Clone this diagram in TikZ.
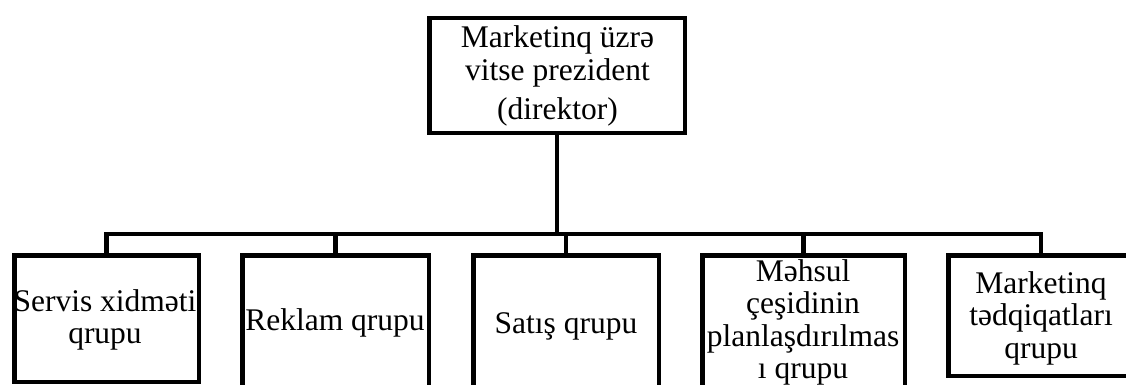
\documentclass[tikz,border=0pt]{standalone}
\usepackage{fontspec}
\setmainfont{Liberation Serif}
\begin{document}
\begin{tikzpicture}[x=1pt,y=-1pt,
  box/.style={draw=black, line width=4.5pt, fill=white, inner sep=0pt, anchor=center},
  link/.style={draw=black, line width=4.5pt},
  label/.style={inner sep=0pt, align=center, anchor=base,
    font=\fontsize{31.5}{32.5}\selectfont}]
\useasboundingbox (0,0) rectangle (1126,385);

% head of the department (base anchor sits on the last line)
\node[box, minimum width=255.5pt, minimum height=114.5pt] (top) at (557,75.5) {};
\node[label] (ttop) at (557.5,120) {Marketinq üzrə\\vitse prezident\\[7pt](direktor)};

% groups
\node[box, minimum width=184.5pt, minimum height=126.5pt] (b1) at (106.5,318.5) {};
\node[box, minimum width=186.5pt, minimum height=140pt] (b2) at (335.5,325.25) {};
\node[box, minimum width=185.5pt, minimum height=140pt] (b3) at (566,325.25) {};
\node[box, minimum width=202.5pt, minimum height=140pt] (b4) at (803.5,325.25) {};
\node[box, minimum width=185.5pt, minimum height=120.5pt] (b5) at (1041,315.5) {};

\node[label] (t1) at (105,343.5) {Servis xidməti\\qrupu};
\node[label] (t2) at (335,330) {Reklam qrupu};
\node[label] (t3) at (566,333) {Satış qrupu};
\node[label] (t4) at (803,378.5) {Məhsul\\çeşidinin\\planlaşdırılmas\\ı qrupu};
\node[label] (t5) at (1041,358) {Marketinq\\tədqiqatları\\qrupu};

% connectors
\coordinate (bus) at (557,234);
\draw[link] (top.south) -- (bus);
\draw[link] (b1.north) -- (b1.north |- bus) -| (b5.north);
\draw[link] (b2.north) -- (b2.north |- bus);
\draw[link] (b3.north) -- (b3.north |- bus);
\draw[link] (b4.north) -- (b4.north |- bus);
\end{tikzpicture}
\end{document}
